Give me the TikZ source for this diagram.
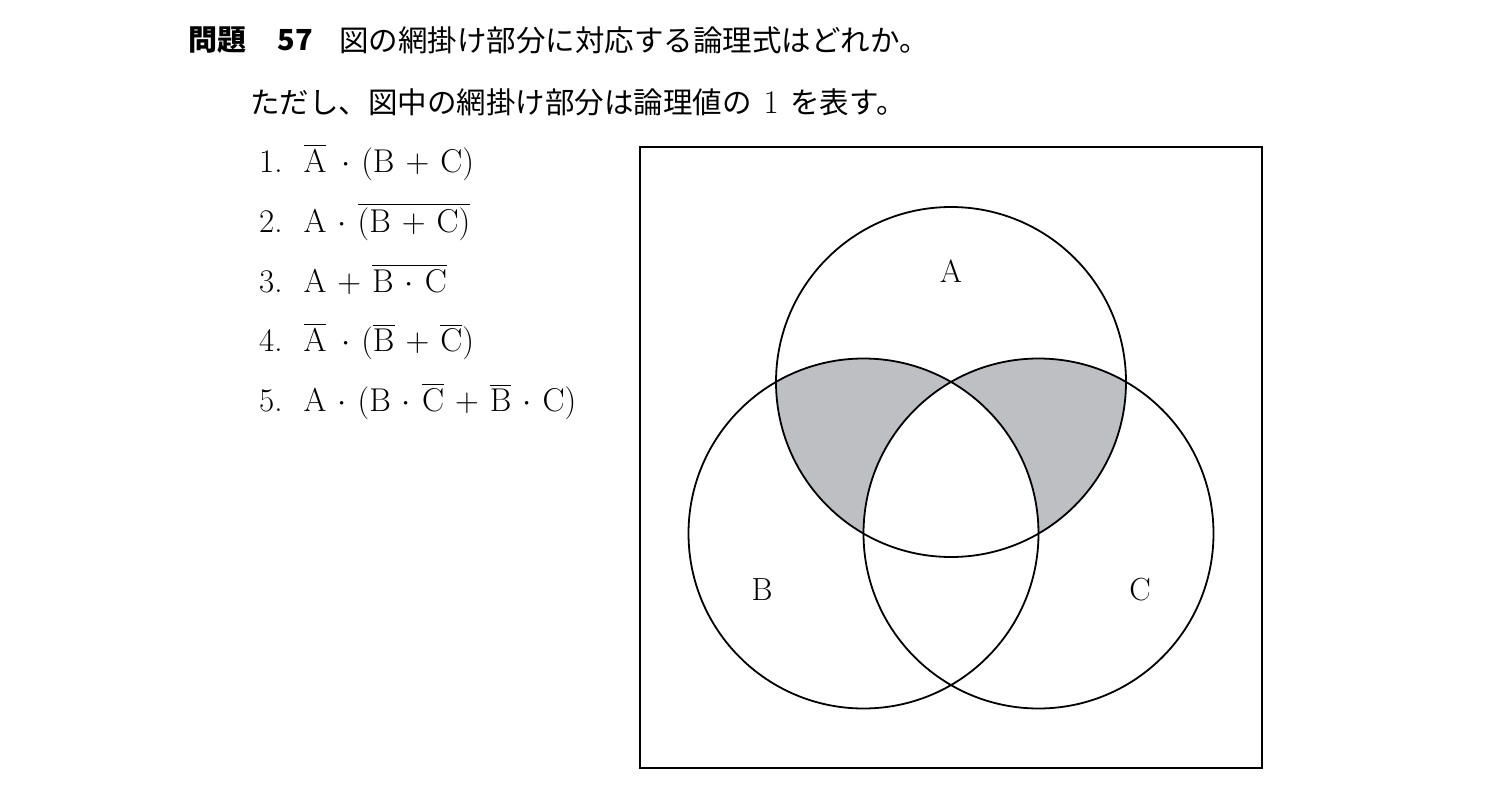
\RequirePackage{fix-cm}
\documentclass[tikz,border=0pt]{standalone}
\usepackage{amsmath}
\usepackage{fontspec}
\usepackage{tikz}
\usetikzlibrary{matrix}
\usetikzlibrary{positioning}
\newfontfamily\jpfont{Noto Sans CJK JP}
\definecolor{amigray}{RGB}{190,191,195}
\newcommand{\sA}{\mathrm{A}}
\newcommand{\sB}{\mathrm{B}}
\newcommand{\sC}{\mathrm{C}}

\begin{document}
\begin{tikzpicture}[x=1pt, y=-1pt, % 以像素为单位,y轴向下
    jptext/.style={font=\jpfont\fontsize{29.5}{35}\selectfont, inner sep=0pt, anchor=west},
    jpbold/.style={jptext, font=\jpfont\bfseries\fontsize{29}{35}\selectfont},
    setcircle/.style={line width=1.8pt},
    setlabel/.style={font=\fontsize{32}{36}\selectfont, inner sep=0pt}]
\medmuskip=6mu\relax % 运算符两侧间距放宽
\useasboundingbox (0,0) rectangle (1512,797);
% 题目两行
\node[jpbold] (title) at (188,40) {問題};
\node[jpbold, right=31pt of title] (qnum) {57};
\node[jptext, right=26pt of qnum] (question) {図の網掛け部分に対応する論理式はどれか。};
\node[jptext] (note) at (250,102) {ただし、図中の網掛け部分は論理値の\hspace{0.4em}{\rmfamily\fontsize{33}{35}\selectfont 1}\hspace{0.4em}を表す。};
% 选项用矩阵排版,编号一列,论理式一列
\matrix (opts) [matrix of nodes,
                matrix anchor=opts-1-1.base west, % 以第一项编号的基线定位
                column sep=21pt,
                row sep=29.75pt,                  % 行距约60
                nodes={inner sep=0pt, anchor=base west, text height=22pt, text depth=8pt,
                       font=\fontsize{33}{38}\selectfont}] at (259,172.5)
{
  1. & $\overline{\sA}\mkern2mu\cdot(\sB+\sC)$ \\
  2. & $\sA\cdot\overline{(\sB+\sC)}$ \\
  3. & $\sA+\overline{\sB\cdot\sC}$ \\
  4. & $\overline{\sA}\mkern2mu\cdot(\overline{\sB}+\overline{\sC})$ \\
  5. & $\sA\cdot(\sB\cdot\overline{\sC}+\overline{\sB}\cdot\sC)$ \\
};
% 三个圆的圆心,正三角形排列
\coordinate (cA) at (951,382);
\coordinate (cB) at (863.5,533.5);
\coordinate (cC) at (1038.5,533.5);
% 网掛け部分:A内且只属于B或C之一
\begin{scope}
  \clip (cA) circle (175pt);
  \fill[amigray, even odd rule] (cB) circle (175pt) (cC) circle (175pt);
\end{scope}
\draw[setcircle] (cA) circle (175pt) (cB) circle (175pt) (cC) circle (175pt);
\draw[line width=2pt] (640,147) rectangle (1262,768); % 全集外框
\node[setlabel] (labA) at (951,271) {A};
\node[setlabel] (labB) at (762,590) {B};
\node[setlabel] (labC) at (1140,590) {C};
\end{tikzpicture}
\end{document}
